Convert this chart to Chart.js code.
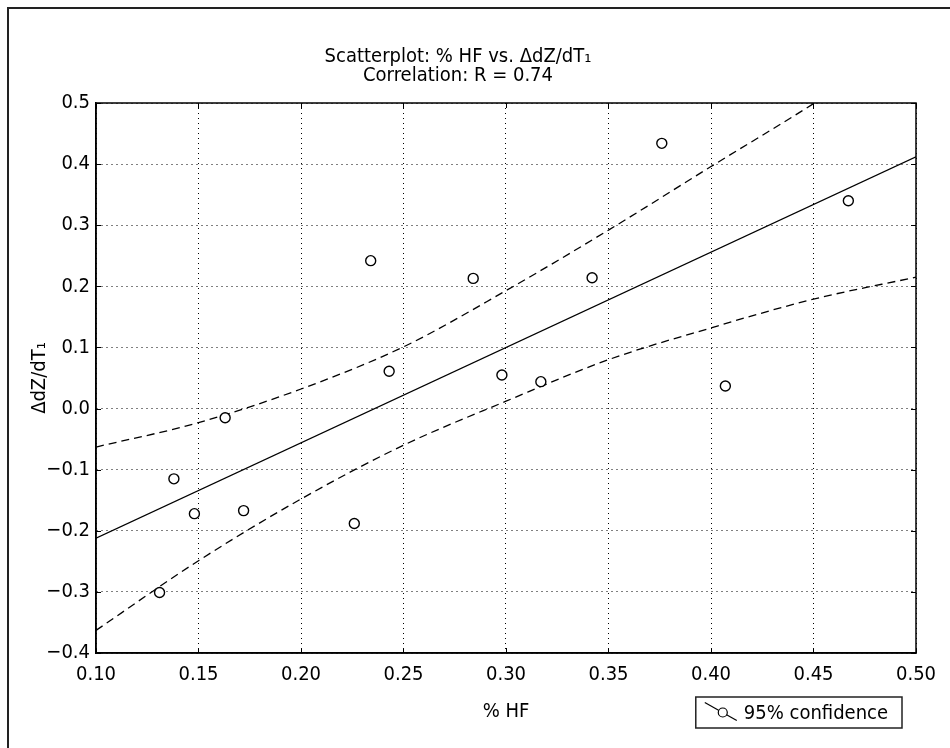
<!DOCTYPE html>
<html>
<head>
<meta charset="utf-8">
<script src="https://cdn.jsdelivr.net/npm/chart.js@4.4.1/dist/chart.umd.min.js"></script>
<style>
  html, body { margin: 0; padding: 0; background: #fff; overflow: hidden; }
  #wrap { position: relative; width: 950px; height: 748px; }
  #frame { position: absolute; left: 7px; top: 7px; width: 980px; height: 780px; border: 2px solid #222; pointer-events: none; }
</style>
</head>
<body>
<div id="wrap">
  <canvas id="chart" width="950" height="748"></canvas>
  <div id="frame"></div>
</div>
<script>
// observed points (% HF vs dZ/dT1)
const hfValues = [0.131, 0.138, 0.148, 0.163, 0.172, 0.226, 0.234, 0.243, 0.284, 0.298, 0.317, 0.342, 0.376, 0.407, 0.467];
const dzValues = [-0.301, -0.115, -0.172, -0.015, -0.167, -0.188, 0.242, 0.061, 0.213, 0.055, 0.044, 0.214, 0.434, 0.037, 0.340];

// regression line
const fitX = [0.10, 0.50];
const fitY = [-0.212, 0.412];

// 95% confidence band
const bandX = [0.10, 0.15, 0.20, 0.25, 0.30, 0.35, 0.40, 0.45, 0.50];
const upperBand = [-0.063, -0.023, 0.032, 0.101, 0.193, 0.292, 0.396, 0.499, 0.61];
const lowerBand = [-0.363, -0.249, -0.148, -0.060, 0.012, 0.080, 0.132, 0.179, 0.215];

const xTickValues = [0.10, 0.15, 0.20, 0.25, 0.30, 0.35, 0.40, 0.45, 0.50];
const yTickValues = [-0.4, -0.3, -0.2, -0.1, 0.0, 0.1, 0.2, 0.3, 0.4, 0.5];

const titleLines = ['Scatterplot: % HF vs. \u0394dZ/dT\u2081', 'Correlation: R = 0.74'];
const xTitle = '% HF';
const yTitle = '\u0394dZ/dT\u2081';
const legendLabels = ['95% confidence'];

const FONT = "'DejaVu Sans Condensed', 'Liberation Sans Narrow', sans-serif";

const toPoints = (xs, ys) => xs.map((x, i) => ({ x: x, y: ys[i] }));

// plot box, inward ticks and legend box like the original figure
const framePlugin = {
  id: 'framePlugin',
  afterDraw(chart) {
    const { ctx, chartArea } = chart;
    const { left, right, top, bottom } = chartArea;
    const xs = chart.scales.x;
    const ys = chart.scales.y;
    ctx.save();
    ctx.strokeStyle = '#000';
    ctx.lineWidth = 1;
    ctx.beginPath();
    xTickValues.forEach(v => {
      const px = Math.round(xs.getPixelForValue(v)) + 0.5;
      ctx.moveTo(px, bottom); ctx.lineTo(px, bottom - 5);
      ctx.moveTo(px, top); ctx.lineTo(px, top + 5);
    });
    yTickValues.forEach(v => {
      const py = Math.round(ys.getPixelForValue(v)) + 0.5;
      ctx.moveTo(left, py); ctx.lineTo(left + 5, py);
      ctx.moveTo(right, py); ctx.lineTo(right - 5, py);
    });
    ctx.stroke();

    ctx.lineWidth = 1.5;
    ctx.strokeRect(left, top, right - left, bottom - top);

    // legend
    ctx.font = '20px ' + FONT;
    const textW = ctx.measureText(legendLabels[0]).width;
    const boxW = textW + 62;
    const boxH = 31;
    const boxRight = right - 14;
    const boxTop = bottom + 44;
    const boxLeft = boxRight - boxW;
    ctx.fillStyle = '#fff';
    ctx.fillRect(boxLeft, boxTop, boxW, boxH);
    ctx.strokeStyle = '#222';
    ctx.lineWidth = 1.5;
    ctx.strokeRect(boxLeft, boxTop, boxW, boxH);

    const cy = boxTop + boxH / 2;
    ctx.strokeStyle = '#000';
    ctx.lineWidth = 1.2;
    ctx.beginPath();
    ctx.moveTo(boxLeft + 9, cy - 10);
    ctx.lineTo(boxLeft + 41, cy + 8);
    ctx.stroke();
    ctx.beginPath();
    ctx.arc(boxLeft + 27, cy, 4.5, 0, Math.PI * 2);
    ctx.fillStyle = '#fff';
    ctx.fill();
    ctx.stroke();

    ctx.fillStyle = '#000';
    ctx.textBaseline = 'middle';
    ctx.textAlign = 'left';
    ctx.fillText(legendLabels[0], boxLeft + 48, cy + 1);
    ctx.restore();
  }
};

new Chart(document.getElementById('chart'), {
  type: 'scatter',
  data: {
    datasets: [
      {
        label: 'data',
        data: toPoints(hfValues, dzValues),
        pointStyle: 'circle',
        pointRadius: 5,
        pointBorderWidth: 1.4,
        pointBorderColor: '#000',
        pointBackgroundColor: '#fff',
        showLine: false,
        order: 0
      },
      {
        label: 'fit',
        data: toPoints(fitX, fitY),
        showLine: true,
        borderColor: '#000',
        borderWidth: 1.3,
        pointRadius: 0,
        order: 1
      },
      {
        label: 'upper',
        data: toPoints(bandX, upperBand),
        showLine: true,
        borderColor: '#000',
        borderWidth: 1.3,
        borderDash: [8, 5],
        cubicInterpolationMode: 'monotone',
        pointRadius: 0,
        order: 2
      },
      {
        label: 'lower',
        data: toPoints(bandX, lowerBand),
        showLine: true,
        borderColor: '#000',
        borderWidth: 1.3,
        borderDash: [8, 5],
        cubicInterpolationMode: 'monotone',
        pointRadius: 0,
        order: 2
      }
    ]
  },
  options: {
    responsive: false,
    animation: false,
    events: [],
    layout: { padding: { right: 34 } },
    plugins: {
      legend: { display: false },
      tooltip: { enabled: false },
      title: {
        display: true,
        text: titleLines,
        color: '#000',
        font: { family: FONT, size: 20, weight: 'normal', lineHeight: 0.95 },
        padding: { top: 47, bottom: 18 }
      }
    },
    scales: {
      x: {
        type: 'linear',
        min: 0.10,
        max: 0.50,
        afterBuildTicks: (scale) => { scale.ticks = xTickValues.map(v => ({ value: v })); },
        afterFit: (scale) => { scale.height = 95; },
        ticks: {
          color: '#000',
          font: { family: FONT, size: 20 },
          padding: 10,
          maxRotation: 0,
          callback: (v) => Number(v).toFixed(2)
        },
        grid: { color: '#000', lineWidth: 1, drawTicks: false },
        border: { display: true, color: '#000', width: 1.5, dash: [1, 4] },
        title: {
          display: true,
          text: xTitle,
          color: '#000',
          font: { family: FONT, size: 20 },
          padding: { top: 0, bottom: 24 }
        }
      },
      y: {
        type: 'linear',
        min: -0.4,
        max: 0.5,
        afterBuildTicks: (scale) => { scale.ticks = yTickValues.map(v => ({ value: v })); },
        afterFit: (scale) => { scale.width = 96; },
        ticks: {
          color: '#000',
          font: { family: FONT, size: 20 },
          padding: 6,
          callback: (v) => (v < 0 ? '\u2212' : '') + Math.abs(Number(v)).toFixed(1)
        },
        grid: { color: '#000', lineWidth: 1, drawTicks: false },
        border: { display: true, color: '#000', width: 1.5, dash: [1, 4] },
        title: {
          display: true,
          text: yTitle,
          color: '#000',
          font: { family: FONT, size: 20 },
          padding: { top: 28, bottom: 0 }
        }
      }
    }
  },
  plugins: [framePlugin]
});
</script>
</body>
</html>
